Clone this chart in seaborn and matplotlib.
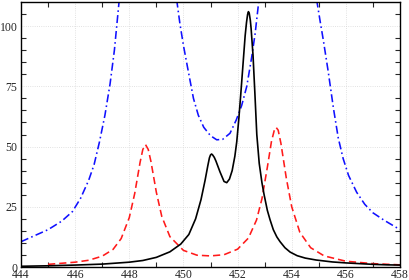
import numpy as np
import pandas as pd
import matplotlib
matplotlib.use("Agg")
import matplotlib.pyplot as plt
from matplotlib.ticker import FixedLocator
import seaborn as sns

# black solid curve
black_x = [444, 445, 446, 447, 448, 448.5, 449, 449.5, 449.9, 450.2, 450.45, 450.65,
           450.8, 450.9, 450.96, 451.0, 451.04, 451.08, 451.14, 451.2, 451.35, 451.5, 451.6,
           451.7, 451.8, 451.9, 451.97, 452.05, 452.12, 452.2, 452.28, 452.33, 452.37, 452.4,
           452.43, 452.47, 452.5, 452.57, 452.64, 452.71, 452.8, 452.9, 452.98, 453.1,
           453.2, 453.32, 453.45, 453.57, 453.75, 453.94, 454.2, 454.5, 454.9, 455.5,
           456, 456.5, 457, 457.5, 458]
black_y = [0.3, 0.5, 0.8, 1.2, 2.0, 2.7, 4.0, 6.3, 9.5, 13.5, 20, 28,
           36, 42, 45.3, 46.5, 46.9, 46.5, 45.5, 44, 39.5, 35.5, 35,
           36.5, 40, 46, 52, 62, 72, 84, 96, 101.5, 104.8, 106,
           105.4, 102.5, 99, 88, 72, 55, 43, 35, 30, 23.5,
           19.6, 15.5, 12.5, 10.5, 8, 6.2, 4.7, 3.7, 2.9, 2.1,
           1.7, 1.4, 1.1, 0.9, 0.8]

# red dashed curve
red_x = [445, 446, 446.5, 447, 447.4, 447.7, 448.0, 448.2, 448.4, 448.5, 448.6, 448.7,
         448.8, 449.0, 449.2, 449.5, 450.0, 450.5, 451.0, 451.5, 452.0, 452.4, 452.7,
         452.9, 453.1, 453.25, 453.35, 453.42, 453.5, 453.6, 453.8, 454.0, 454.3, 454.7,
         455.2, 456, 457, 458]
red_y = [1.1, 2.0, 2.8, 4.5, 7.3, 11.8, 20.5, 30.5, 43.5, 48.8, 50.8, 48.8,
         43.8, 31, 21, 12.6, 6.9, 4.9, 4.6, 5.1, 7.4, 12, 19.5,
         28.3, 41.4, 52, 56.5, 58, 56.8, 51.4, 36.9, 25, 14.4, 8,
         4.6, 2.4, 1.4, 0.9]

# blue dash-dot curve, three branches leaving the top of the frame
blue_left_x = [444, 444.5, 445, 445.5, 445.9, 446.2, 446.5, 446.7, 446.9, 447.1, 447.29, 447.45, 447.63]
blue_left_y = [10.5, 13, 15.5, 19, 23, 28.5, 36, 42.5, 52, 63, 76, 90, 111]
blue_mid_x = [449.75, 449.87, 450.0, 450.15, 450.37, 450.55, 450.75, 451.0, 451.23, 451.45,
              451.72, 451.95, 452.15, 452.34, 452.52, 452.65, 452.79]
blue_mid_y = [111, 101, 92, 83, 70, 63, 58, 54.5, 52.8, 53, 55.5, 61, 67, 75, 87, 97, 111]
blue_right_x = [454.92, 455.05, 455.17, 455.35, 455.54, 455.72, 455.9, 456.1, 456.4, 456.7,
                457.0, 457.4, 457.7, 458]
blue_right_y = [111, 102, 94, 81, 66, 53.5, 45, 38, 31, 26, 22.5, 19.5, 17.5, 15.5]

x_ticks = [444, 446, 448, 450, 452, 454, 456, 458]
y_ticks = [0, 25, 50, 75, 100]

sns.set_style("ticks")
plt.rcParams['font.family'] = ['Liberation Serif', 'DejaVu Serif']

fig = plt.figure(figsize=(4.09, 2.8), dpi=100)
ax = fig.add_axes([21 / 409, 13 / 280, 379 / 409, 265 / 280])

lw = 1.15
for bx, by in [(blue_left_x, blue_left_y), (blue_mid_x, blue_mid_y), (blue_right_x, blue_right_y)]:
    sns.lineplot(x=bx, y=by, ax=ax, color='#1010ff', linewidth=lw, sort=False)
    ax.lines[-1].set_dashes((5, 2, 1, 2))
sns.lineplot(x=red_x, y=red_y, ax=ax, color='#ff1a1a', linewidth=lw, sort=False)
ax.lines[-1].set_dashes((4.5, 2.5))
sns.lineplot(x=black_x, y=black_y, ax=ax, color='black', linewidth=1.2, sort=False)

ax.set_xlim(444, 458)
ax.set_ylim(0, 110)

# labels/grid at the major positions, small inward ticks between them
ax.xaxis.set_major_locator(FixedLocator(x_ticks))
ax.yaxis.set_major_locator(FixedLocator(y_ticks))
ax.xaxis.set_minor_locator(FixedLocator(np.arange(445, 458, 2)))
ax.yaxis.set_minor_locator(FixedLocator([v for v in range(5, 110, 5) if v % 25 != 0]))
ax.tick_params(which='major', length=0, labelsize=8.5, pad=2.5)
ax.tick_params(axis='x', which='major', pad=1.5)
ax.tick_params(which='minor', direction='in', length=3.5, width=0.8,
               top=True, bottom=True, left=True, right=True)
ax.grid(True, which='major', linestyle=':', linewidth=0.6, color='#d8d8d8')

for s in ax.spines.values():
    s.set_linewidth(1.0)
    s.set_color('black')

ax.set_xlabel('')
ax.set_ylabel('')

fig.savefig('out.png', dpi=100)
